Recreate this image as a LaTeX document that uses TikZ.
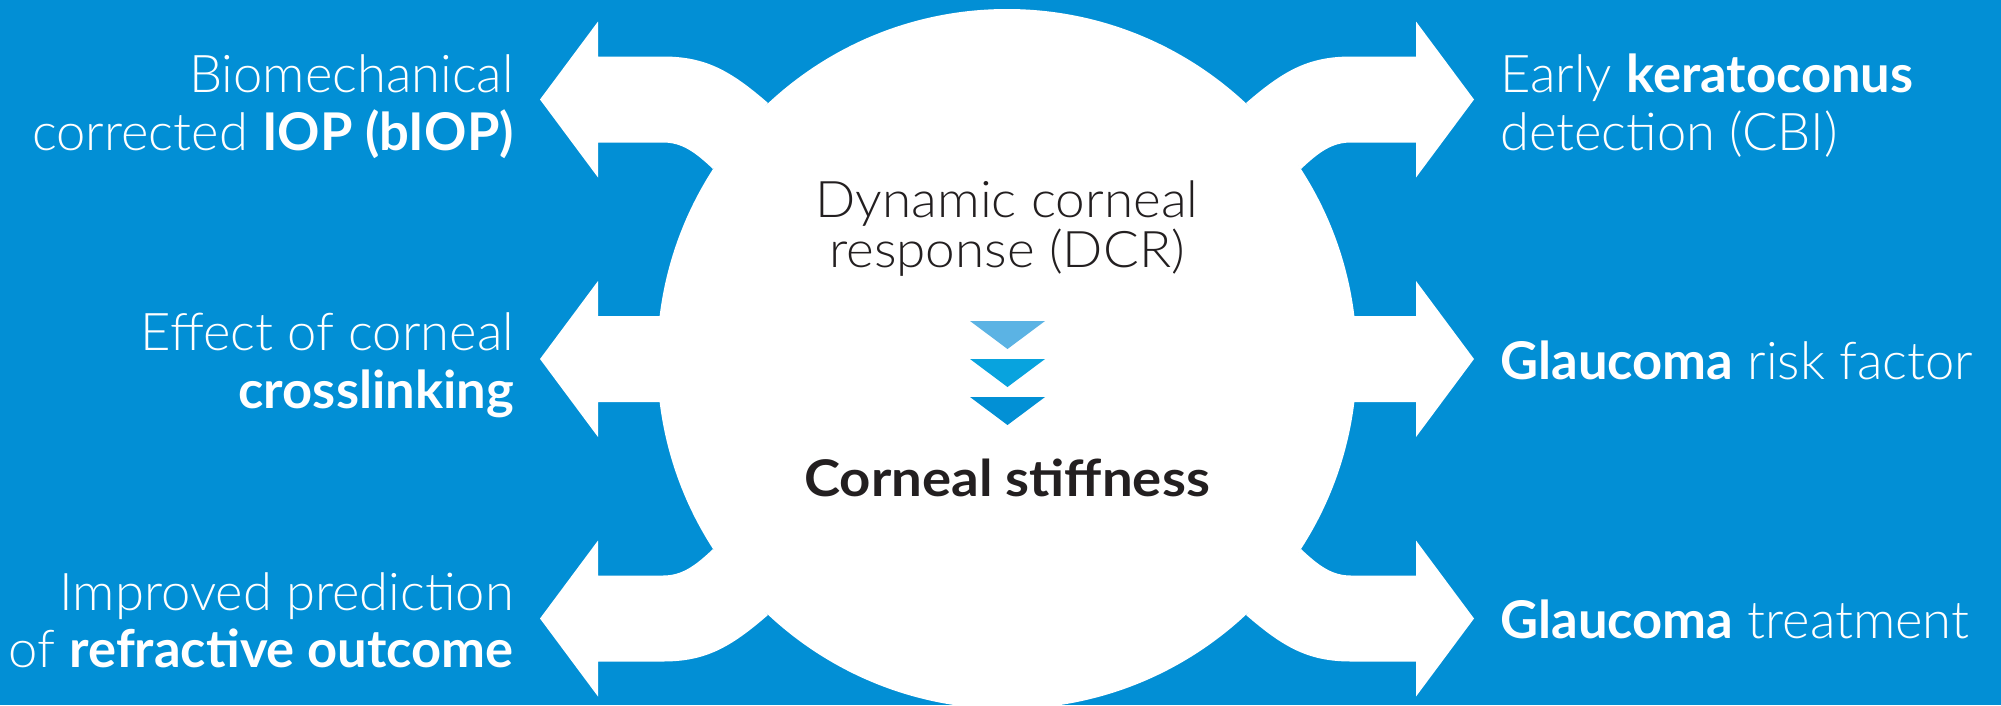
\documentclass[tikz,border=0pt]{standalone}
\usepackage{fontspec}
\setmainfont{Lato}[UprightFont={* Light},BoldFont={* Bold},FakeStretch=1.01]
\newfontfamily\ctrfont{Lato}[UprightFont={* Light},BoldFont={* Bold},FakeStretch=1.05]
\newfontfamily\stifffont{Lato Bold}[FakeStretch=1.08]
\definecolor{bg}{HTML}{028FD5}
\definecolor{chevA}{HTML}{5BB3E4}
\definecolor{chevB}{HTML}{08A3DE}
\definecolor{chevC}{HTML}{0290D5}
\definecolor{ink}{HTML}{231F20}
\tikzset{
  shapefill/.style={fill=white},
  sidetext/.style={inner sep=0pt,text=white,font=\fontsize{52}{58}\selectfont},
  lefttext/.style={sidetext,anchor=base east},
  righttext/.style={sidetext,anchor=base west},
  centertext/.style={inner sep=0pt,text=ink,anchor=base,font=\ctrfont\fontsize{50.5}{50}\selectfont},
}
\begin{document}
\begin{tikzpicture}[x=1pt,y=-1pt]
\fill[bg] (0,0) rectangle (2001,705);
\useasboundingbox (0,0) rectangle (2001,705);
\clip (0,0) rectangle (2001,705);
% central disc
\fill[shapefill] (1007,359) circle[radius=350];
% left arrows
\fill[shapefill] (540,99.5) -- (598,21.5) -- (598,56.5) -- (663,56.5)
  .. controls (705,56.5) and (730,70) .. (768,103) -- (713,169)
  .. controls (695,152) and (682,142.5) .. (663,142.5) -- (598,142.5) -- (598,177.5) -- cycle;
\fill[shapefill] (540,359) -- (598,281) -- (598,316) -- (700,316) -- (700,402) -- (598,402) -- (598,437) -- cycle;
\fill[shapefill] (540,618.5) -- (598,540.5) -- (598,575.5) -- (663,575.5)
  .. controls (682,575.5) and (695,566) .. (713,549) -- (768,615)
  .. controls (730,648) and (705,661.5) .. (663,661.5) -- (598,661.5) -- (598,696.5) -- cycle;
% right arrows
\fill[shapefill] (1474,99.5) -- (1416,21.5) -- (1416,56.5) -- (1351,56.5)
  .. controls (1309,56.5) and (1284,70) .. (1246,103) -- (1301,169)
  .. controls (1319,152) and (1332,142.5) .. (1351,142.5) -- (1416,142.5) -- (1416,177.5) -- cycle;
\fill[shapefill] (1474,359) -- (1416,281) -- (1416,316) -- (1314,316) -- (1314,402) -- (1416,402) -- (1416,437) -- cycle;
\fill[shapefill] (1474,618.5) -- (1416,540.5) -- (1416,575.5) -- (1351,575.5)
  .. controls (1332,575.5) and (1319,566) .. (1301,549) -- (1246,615)
  .. controls (1284,648) and (1309,661.5) .. (1351,661.5) -- (1416,661.5) -- (1416,696.5) -- cycle;
% chevrons
\fill[chevA] (970,321) -- (1045,321) -- (1007.5,349) -- cycle;
\fill[chevB] (970,359) -- (1045,359) -- (1007.5,387) -- cycle;
\fill[chevC] (970,397) -- (1045,397) -- (1007.5,425) -- cycle;
% left texts
\node[lefttext] (l1a) at (514,92) {Biomechanical};
\node[lefttext] (l1b) at (514,150) {corrected \textbf{IOP (bIOP)}};
\node[lefttext] (l2a) at (514,350) {Effect of corneal};
\node[lefttext] (l2b) at (514,408) {\textbf{crosslinking}};
\node[lefttext] (l3a) at (514,610) {Improved prediction};
\node[lefttext] (l3b) at (514,667) {of \textbf{refractive outcome}};
% right texts
\node[righttext] (r1a) at (1500,92) {Early \textbf{keratoconus}};
\node[righttext] (r1b) at (1500,150) {detection (CBI)};
\node[righttext] (r2) at (1500,379) {\textbf{Glaucoma} risk factor};
\node[righttext] (r3) at (1500,638.5) {\textbf{Glaucoma} treatment};
% centre texts
\node[centertext] (c1) at (1007,217) {Dynamic corneal};
\node[centertext] (c2) at (1007,267) {response (DCR)};
\node[centertext,font=\stifffont\fontsize{50.5}{50}\selectfont] (c3) at (1007,496) {Corneal stiffness};
\end{tikzpicture}
\end{document}
